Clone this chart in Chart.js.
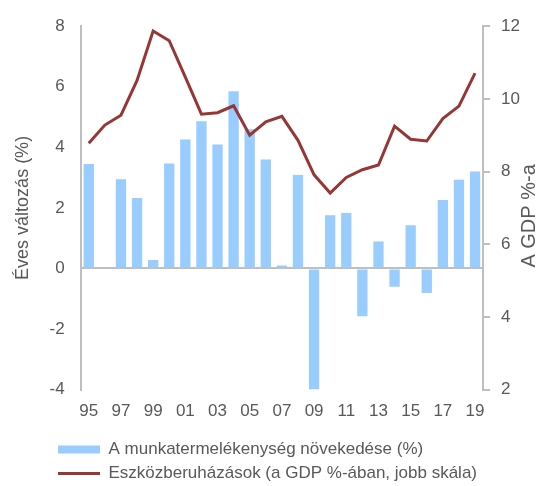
<!DOCTYPE html>
<html>
<head>
<meta charset="utf-8">
<script src="https://cdn.jsdelivr.net/npm/chart.js@4"></script>
<style>
  html, body { margin: 0; padding: 0; background: #fff; }
  #wrap { width: 549px; height: 486px; }
</style>
</head>
<body>
<div id="wrap"><canvas id="chart"></canvas></div>
<script>
const years = ['95', '96', '97', '98', '99', '00', '01', '02', '03', '04', '05', '06', '07',
  '08', '09', '10', '11', '12', '13', '14', '15', '16', '17', '18', '19'];
const productivity = [3.45, 0.02, 2.95, 2.33, 0.28, 3.47, 4.26, 4.86, 4.09, 5.85, 4.6, 3.6, 0.1,
  3.09, -4.0, 1.76, 1.83, -1.58, 0.89, -0.6, 1.43, -0.81, 2.26, 2.93, 3.2];
const investment = [8.78, 9.28, 9.55, 10.51, 11.87, 11.6, 10.6, 9.58, 9.62, 9.81, 9.0, 9.37, 9.52,
  8.86, 7.91, 7.41, 7.84, 8.05, 8.18, 9.25, 8.89, 8.84, 9.46, 9.8, 10.71];
const leftTicks = [-4, -2, 0, 2, 4, 6, 8];
const rightTicks = [2, 4, 6, 8, 10, 12];
const rightTitle = 'A GDP %-a';

const grey = '#595959';
const axisGrey = '#bfbfbf';
const family = '"Liberation Sans", Arial, sans-serif';
const font = { family: family, size: 17 };

// push the legend rows to the right, like the original
const legendShift = {
  id: 'legendShift',
  afterLayout(chart) {
    chart.legend.left += 39;
  }
};

// right axis title reads bottom-to-top in the original
const rightTitlePlugin = {
  id: 'rightTitle',
  afterDraw(chart) {
    const ctx = chart.ctx;
    const area = chart.chartArea;
    ctx.save();
    ctx.translate(529, (area.top + area.bottom) / 2 + 8);
    ctx.rotate(-Math.PI / 2);
    ctx.font = '20px ' + family;
    ctx.fillStyle = grey;
    ctx.textAlign = 'center';
    ctx.textBaseline = 'middle';
    ctx.fillText(rightTitle, 0, 0);
    ctx.restore();
  }
};

new Chart(document.getElementById('chart'), {
  data: {
    labels: years,
    datasets: [
      {
        type: 'line',
        label: 'Eszközberuházások (a GDP %-ában, jobb skála)',
        data: investment,
        yAxisID: 'y2',
        borderColor: '#953735',
        backgroundColor: '#953735',
        borderWidth: 3,
        pointRadius: 0,
        pointStyle: 'line',
        tension: 0,
        order: 0
      },
      {
        type: 'bar',
        label: 'A munkatermelékenység növekedése (%)',
        data: productivity,
        yAxisID: 'y',
        backgroundColor: '#99ccff',
        borderWidth: 0,
        pointStyle: 'rect',
        barPercentage: 0.64,
        categoryPercentage: 1,
        order: 1
      }
    ]
  },
  options: {
    responsive: true,
    maintainAspectRatio: false,
    animation: false,
    layout: { padding: { top: 9, right: 18, left: 12, bottom: -6 } },
    plugins: {
      tooltip: { enabled: false },
      legend: {
        position: 'bottom',
        align: 'start',
        reverse: true,
        labels: {
          font: font,
          color: grey,
          usePointStyle: true,
          pointStyleWidth: 42,
          boxHeight: 8,
          padding: 7
        }
      }
    },
    scales: {
      x: {
        offset: true,
        border: { display: false },
        grid: { display: false, drawTicks: false },
        ticks: {
          font: font,
          color: grey,
          autoSkip: false,
          maxRotation: 0,
          padding: 12,
          callback: (v, i) => (i % 2 === 0 ? years[i] : '')
        }
      },
      y: {
        position: 'left',
        min: leftTicks[0],
        max: leftTicks[leftTicks.length - 1],
        afterBuildTicks: (s) => { s.ticks = leftTicks.map(v => ({ value: v })); },
        border: { display: true, color: axisGrey, width: 2 },
        grid: {
          drawTicks: false,
          color: (ctx) => (ctx.tick && ctx.tick.value === 0 ? axisGrey : 'rgba(0,0,0,0)'),
          lineWidth: 2
        },
        ticks: { font: font, color: grey, padding: 16 },
        title: { display: true, text: 'Éves változás (%)', font: { family: family, size: 18 }, color: grey, padding: { top: 0, bottom: 0 } }
      },
      y2: {
        position: 'right',
        min: rightTicks[0],
        max: rightTicks[rightTicks.length - 1],
        afterBuildTicks: (s) => { s.ticks = rightTicks.map(v => ({ value: v })); },
        border: { display: true, color: axisGrey, width: 2 },
        grid: { drawOnChartArea: false, color: axisGrey, tickLength: 7, lineWidth: 2 },
        ticks: { font: font, color: grey, padding: 11 }
      }
    }
  },
  plugins: [legendShift, rightTitlePlugin]
});
</script>
</body>
</html>
